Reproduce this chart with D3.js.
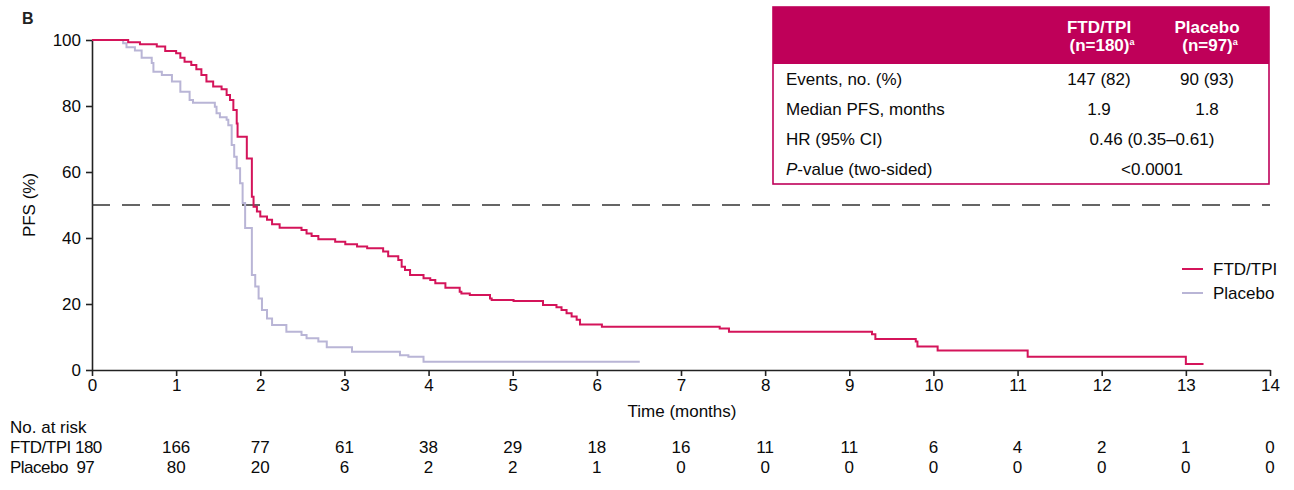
<!DOCTYPE html>
<html>
<head>
<meta charset="utf-8">
<script src="https://cdn.jsdelivr.net/npm/d3@7"></script>
<style>
  html, body { margin: 0; padding: 0; background: #fff; }
  svg { display: block; font-family: "Liberation Sans", Arial, sans-serif; }
</style>
</head>
<body>
<svg id="chart" width="1294" height="490"></svg>
<script>
// ---------------- DATA ----------------
const ftdTimes  = [0, 0.43, 0.57, 0.77, 0.87, 1.00, 1.05, 1.10, 1.18, 1.24, 1.30, 1.36, 1.44, 1.54, 1.60, 1.64, 1.68, 1.72, 1.73, 1.84, 1.90, 1.92, 1.96, 2.00, 2.08, 2.14, 2.23, 2.49, 2.55, 2.61, 2.69, 2.89, 3.01, 3.15, 3.27, 3.46, 3.52, 3.64, 3.68, 3.72, 3.78, 3.94, 4.02, 4.08, 4.20, 4.37, 4.39, 4.49, 4.73, 4.75, 5.01, 5.36, 5.52, 5.58, 5.64, 5.70, 5.76, 5.80, 6.06, 7.46, 7.57, 9.27, 9.31, 9.79, 9.81, 10.05, 11.12, 13.00, 13.21];
const ftdValues = [100, 99.3, 98.7, 98.0, 96.7, 96.0, 94.6, 93.4, 92.4, 91.1, 89.4, 87.4, 85.9, 85.1, 83.3, 81.8, 78.8, 74.7, 70.7, 64.1, 52.5, 49.5, 48.0, 46.5, 45.5, 44.2, 43.1, 42.4, 41.4, 40.6, 39.6, 38.9, 38.1, 37.4, 36.9, 35.9, 34.5, 33.3, 31.3, 30.3, 28.8, 27.8, 27.3, 26.3, 24.9, 23.7, 23.2, 22.7, 21.7, 21.2, 20.9, 19.7, 19.0, 18.2, 17.2, 16.2, 15.2, 13.8, 13.1, 12.6, 11.6, 10.8, 9.4, 8.6, 7.1, 5.9, 4.0, 1.8, 1.8];

const placeboTimes  = [0, 0.37, 0.41, 0.51, 0.59, 0.71, 0.73, 0.83, 0.95, 1.05, 1.16, 1.20, 1.46, 1.48, 1.52, 1.60, 1.62, 1.66, 1.69, 1.72, 1.76, 1.79, 1.82, 1.90, 1.94, 1.98, 2.02, 2.08, 2.14, 2.31, 2.49, 2.55, 2.69, 2.79, 3.09, 3.66, 3.76, 3.94, 6.51];
const placeboValues = [100, 99.0, 97.8, 96.8, 94.6, 93.0, 90.4, 89.4, 87.4, 84.3, 81.8, 81.0, 79.8, 77.8, 76.6, 75.8, 74.2, 68.2, 64.6, 61.1, 56.6, 50.6, 43.0, 28.8, 25.3, 21.7, 18.2, 15.6, 13.6, 11.6, 10.6, 9.6, 8.6, 6.9, 5.5, 4.5, 4.0, 2.5, 2.5];

const seriesNames = ["FTD/TPI", "Placebo"];
const xTicks = [0,1,2,3,4,5,6,7,8,9,10,11,12,13,14];
const yTicks = [0,20,40,60,80,100];
const medianLine = 50;

const riskMonths   = [1,2,3,4,5,6,7,8,9,10,11,12,13,14];
const riskFtd      = [166,77,61,38,29,18,16,11,11,6,4,2,1,0];
const riskPlacebo  = [80,20,6,2,2,1,0,0,0,0,0,0,0,0];
const riskLabels   = ["FTD/TPI 180", "Placebo  97"];

const tableHeaders  = [["FTD/TPI", "(n=180)"], ["Placebo", "(n=97)"]];
const tableRowLabels = ["Events, no. (%)", "Median PFS, months", "HR (95% CI)", "-value (two-sided)"];
const tableCol1     = ["147 (82)", "1.9", null, null];
const tableCol2     = ["90 (93)", "1.8", null, null];
const tableMerged   = [null, null, "0.46 (0.35\u20130.61)", "<0.0001"];

// ---------------- STYLE ----------------
const RED = "#d4145a";
const LAV = "#b9b5d6";
const CRIMSON = "#bf0059";
const FS = 17;
const INK = "#0a0a0a";

const svg = d3.select("#chart");
const x = d3.scaleLinear().domain([0, 14]).range([92, 1270]);
const y = d3.scaleLinear().domain([0, 100]).range([370, 40]);

// panel letter
svg.append("text").attr("x", 22).attr("y", 24).attr("font-size", 16).attr("font-weight", "bold").attr("fill", "#222").text("B");

// axes
const xAxis = d3.axisBottom(x).tickValues(xTicks).tickSize(6).tickSizeOuter(0).tickPadding(3);
const gx = svg.append("g").attr("transform", "translate(0,370)").call(xAxis);
gx.select(".domain").attr("stroke", "#222").attr("stroke-width", 1.6);
gx.selectAll(".tick line").attr("stroke", "#222").attr("stroke-width", 1.6);
gx.selectAll(".tick text").attr("font-size", FS).attr("fill", INK).attr("font-family", "Liberation Sans, Arial, sans-serif");

const yAxis = d3.axisLeft(y).tickValues(yTicks).tickSize(6).tickSizeOuter(0).tickPadding(5);
const gy = svg.append("g").attr("transform", "translate(92,0)").call(yAxis);
gy.select(".domain").attr("stroke", "#222").attr("stroke-width", 1.6);
gy.selectAll(".tick line").attr("stroke", "#222").attr("stroke-width", 1.6);
gy.selectAll(".tick text").attr("font-size", FS).attr("fill", INK).attr("font-family", "Liberation Sans, Arial, sans-serif");

// axis titles
svg.append("text").attr("x", 682).attr("y", 417).attr("text-anchor", "middle").attr("font-size", FS).attr("fill", INK).text("Time (months)");
svg.append("text").attr("transform", "translate(35,205) rotate(-90)").attr("text-anchor", "middle").attr("font-size", FS).attr("fill", INK).text("PFS (%)");

// median dashed line
svg.append("line").attr("x1", x(0)).attr("x2", x(14)).attr("y1", y(medianLine)).attr("y2", y(medianLine))
  .attr("stroke", "#333").attr("stroke-width", 1.6).attr("stroke-dasharray", "18,12");

// curves
const line = d3.line().x(d => x(d[0])).y(d => y(d[1])).curve(d3.curveStepAfter);
const placeboData = placeboTimes.map((t, i) => [t, placeboValues[i]]);
const ftdData = ftdTimes.map((t, i) => [t, ftdValues[i]]);
svg.append("path").datum(placeboData).attr("d", line).attr("fill", "none").attr("stroke", LAV).attr("stroke-width", 2);
svg.append("path").datum(ftdData).attr("d", line).attr("fill", "none").attr("stroke", RED).attr("stroke-width", 2);

// legend
const legend = svg.append("g");
[[RED, seriesNames[0], 269], [LAV, seriesNames[1], 293]].forEach(([c, t, yy]) => {
  legend.append("line").attr("x1", 1182).attr("x2", 1203).attr("y1", yy).attr("y2", yy).attr("stroke", c).attr("stroke-width", 2);
  legend.append("text").attr("x", 1213).attr("y", yy + 6).attr("font-size", FS).attr("fill", INK).text(t);
});

// number at risk
svg.append("text").attr("x", 10).attr("y", 433).attr("font-size", FS).attr("fill", INK).text("No. at risk");
svg.append("text").attr("x", 10).attr("y", 453).attr("font-size", FS).attr("fill", INK).attr("letter-spacing", -0.5).style("white-space", "pre").text(riskLabels[0]);
svg.append("text").attr("x", 10).attr("y", 473).attr("font-size", FS).attr("fill", INK).attr("letter-spacing", -0.5).style("white-space", "pre").text(riskLabels[1]);
svg.append("g").selectAll("text").data(riskMonths).join("text")
  .attr("x", d => x(d)).attr("y", 453).attr("text-anchor", "middle").attr("font-size", FS).attr("fill", INK)
  .text((d, i) => riskFtd[i]);
svg.append("g").selectAll("text").data(riskMonths).join("text")
  .attr("x", d => x(d)).attr("y", 473).attr("text-anchor", "middle").attr("font-size", FS).attr("fill", INK)
  .text((d, i) => riskPlacebo[i]);

// stats table
const tb = svg.append("g");
const tX = 773, tY = 7, tW = 496, tH = 177, hH = 57;
tb.append("rect").attr("x", tX).attr("y", tY).attr("width", tW).attr("height", hH).attr("fill", CRIMSON);
tb.append("rect").attr("x", tX).attr("y", tY).attr("width", tW).attr("height", tH).attr("fill", "none").attr("stroke", CRIMSON).attr("stroke-width", 1.6);
const colX = [1099, 1207];
const mergedX = 1152;
tableHeaders.forEach((h, i) => {
  tb.append("text").attr("x", colX[i]).attr("y", 33).attr("text-anchor", "middle").attr("font-size", 17).attr("font-weight", "bold").attr("fill", "#fff").text(h[0]);
  const t2 = tb.append("text").attr("x", colX[i] + 3).attr("y", 51).attr("text-anchor", "middle").attr("font-size", 17).attr("font-weight", "bold").attr("fill", "#fff");
  t2.append("tspan").text(h[1]);
  t2.append("tspan").attr("font-size", 9).attr("dy", -6).text("a");
});
const rowY = [85, 115, 145, 175];
tableRowLabels.forEach((lab, i) => {
  const t = tb.append("text").attr("x", 786).attr("y", rowY[i]).attr("font-size", FS).attr("fill", INK);
  if (i === 3) {
    t.append("tspan").attr("font-style", "italic").text("P");
    t.append("tspan").text(lab);
  } else {
    t.text(lab);
  }
  if (tableCol1[i] !== null) tb.append("text").attr("x", colX[0]).attr("y", rowY[i]).attr("text-anchor", "middle").attr("font-size", FS).attr("fill", INK).text(tableCol1[i]);
  if (tableCol2[i] !== null) tb.append("text").attr("x", colX[1]).attr("y", rowY[i]).attr("text-anchor", "middle").attr("font-size", FS).attr("fill", INK).text(tableCol2[i]);
  if (tableMerged[i] !== null) tb.append("text").attr("x", mergedX).attr("y", rowY[i]).attr("text-anchor", "middle").attr("font-size", FS).attr("fill", INK).text(tableMerged[i]);
});
</script>
</body>
</html>
